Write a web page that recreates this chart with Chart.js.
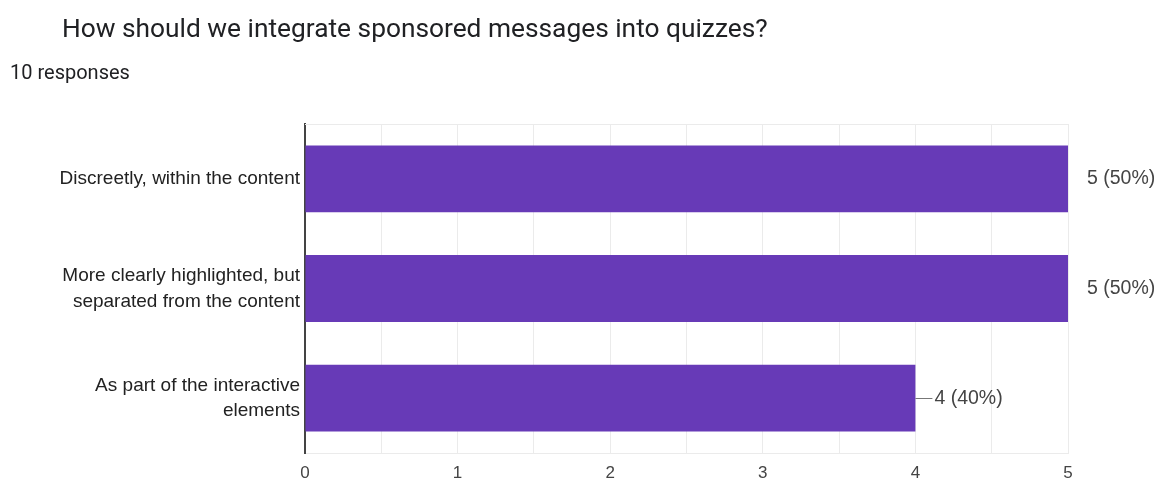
<!DOCTYPE html>
<html>
<head>
<meta charset="utf-8">
<script src="https://cdn.jsdelivr.net/npm/chart.js@4"></script>
<style>
  html, body { margin: 0; padding: 0; background: #fff; }
  #wrap { position: relative; width: 1157px; height: 480px; }
  #title {
    position: absolute; left: 62px; top: 13px;
    font: 26.3px Roboto, sans-serif; color: #202124; white-space: nowrap;
  }
  #count {
    position: absolute; left: 10px; top: 60px;
    font: 20px Roboto, sans-serif; color: #202124; white-space: nowrap;
  }
  canvas { position: absolute; left: 0; top: 0; }
</style>
</head>
<body>
<div id="wrap">
  <canvas id="quizChart" width="1157" height="480"></canvas>
  <div id="title">How should we integrate sponsored messages into quizzes?</div>
  <div id="count">10 responses</div>
</div>
<script>
const answers = [
  ["Discreetly, within the content"],
  ["More clearly highlighted, but", "separated from the content"],
  ["As part of the interactive", "elements"]
];
const votes = [5, 5, 4];
const totalResponses = 10;
const tickValues = [0, 1, 2, 3, 4, 5];

// "n (p%)" labels with a short stem, like the forms summary view
const valueLabels = {
  id: "valueLabels",
  afterDatasetsDraw(chart) {
    const ctx = chart.ctx;
    const area = chart.chartArea;
    const meta = chart.getDatasetMeta(0);
    meta.data.forEach(function (bar, i) {
      const v = votes[i];
      ctx.save();
      ctx.beginPath();
      ctx.rect(area.left, area.top, area.right - area.left, area.bottom - area.top);
      ctx.clip();
      ctx.strokeStyle = "#777";
      ctx.lineWidth = 1;
      ctx.beginPath();
      ctx.moveTo(bar.x, Math.round(bar.y) + 0.5);
      ctx.lineTo(bar.x + 17, Math.round(bar.y) + 0.5);
      ctx.stroke();
      ctx.restore();

      ctx.save();
      ctx.fillStyle = "#444";
      ctx.font = "19.5px 'Liberation Sans', Arial, sans-serif";
      ctx.textAlign = "left";
      ctx.textBaseline = "middle";
      const pct = Math.round((v / totalResponses) * 100);
      ctx.fillText(v + " (" + pct + "%)", bar.x + 19, bar.y);
      ctx.restore();
    });
  }
};

// top edge of the plot frame
const frameTop = {
  id: "frameTop",
  beforeDatasetsDraw(chart) {
    const ctx = chart.ctx;
    const a = chart.chartArea;
    ctx.save();
    ctx.strokeStyle = "#ebebeb";
    ctx.lineWidth = 1;
    ctx.beginPath();
    ctx.moveTo(a.left, Math.round(a.top) + 0.5);
    ctx.lineTo(a.right, Math.round(a.top) + 0.5);
    ctx.stroke();
    ctx.restore();
  }
};

const ctx = document.getElementById("quizChart").getContext("2d");

new Chart(ctx, {
  type: "bar",
  data: {
    labels: answers,
    datasets: [
      {
        data: votes,
        backgroundColor: "#673ab7",
        borderWidth: 0,
        barPercentage: 0.61,
        categoryPercentage: 1.0
      }
    ]
  },
  options: {
    indexAxis: "y",
    responsive: false,
    animation: false,
    layout: {
      padding: { top: 124, right: 89, bottom: 0, left: 0 }
    },
    plugins: {
      legend: { display: false },
      tooltip: { enabled: false }
    },
    scales: {
      x: {
        min: tickValues[0],
        max: tickValues[tickValues.length - 1],
        afterFit: function (scale) { scale.height = 27; },
        ticks: {
          stepSize: 0.5,
          autoSkip: false,
          maxRotation: 0,
          padding: 10,
          color: "#444",
          font: { family: "'Liberation Sans', Arial, sans-serif", size: 17 },
          callback: function (value) {
            return tickValues.includes(value) ? value : "";
          }
        },
        grid: { color: "#ebebeb", drawTicks: false },
        border: { color: "#ebebeb" }
      },
      y: {
        afterFit: function (scale) { scale.width = 305; },
        ticks: {
          padding: 5,
          color: "#222",
          font: { family: "'Liberation Sans', Arial, sans-serif", size: 19, lineHeight: 1.35 }
        },
        grid: { display: false, drawTicks: false },
        border: { display: true, color: "#444", width: 2 }
      }
    }
  },
  plugins: [frameTop, valueLabels]
});
</script>
</body>
</html>
